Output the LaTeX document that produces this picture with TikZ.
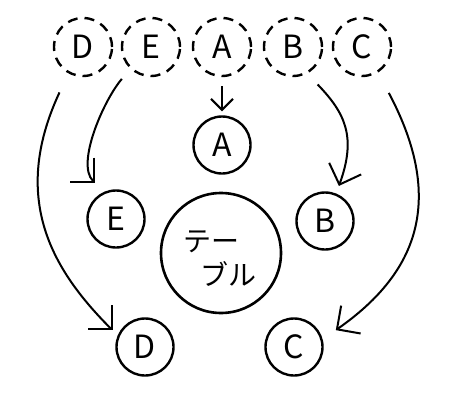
\documentclass[tikz,border=0pt]{standalone}
\usepackage{fontspec}
\setmainfont{Noto Sans CJK JP}
\usetikzlibrary{arrows.meta}
\begin{document}
\begin{tikzpicture}[x=1pt,y=1pt,
  lbl/.style={font=\fontsize{32}{38}\selectfont},
  dcirc/.style={circle, draw, dash pattern=on 10pt off 7pt, line width=2.4pt, minimum size=58pt, inner sep=0pt, lbl},
  pcirc/.style={circle, draw, line width=2.4pt, minimum size=57pt, inner sep=0pt, lbl},
  tcirc/.style={circle, draw, line width=2.6pt, minimum size=120pt, inner sep=0pt},
  ttxt/.style={font=\fontsize{28}{34}\selectfont, inner sep=0pt},
  arr/.style={line width=2pt, -{Straight Barb[length=17pt,width=34pt]}},
  arrA/.style={line width=2pt, -{Straight Barb[length=11pt,width=22pt]}},
  ]
\useasboundingbox (0,0) rectangle (454,400);
% top dashed circles
\node[dcirc] (tD) at (83,353) {D};
\node[dcirc] (tE) at (151,353) {E};
\node[dcirc] (tA) at (222,353) {A};
\node[dcirc] (tB) at (293,353) {B};
\node[dcirc] (tC) at (362,353) {C};
% seats
\node[pcirc] (A) at (222,255) {A};
\node[pcirc] (E) at (116,181) {E};
\node[pcirc] (B) at (325,179) {B};
\node[pcirc] (D) at (145,53) {D};
\node[pcirc] (C) at (294,53) {C};
% table
\node[tcirc] (table) at (221,147) {};
\node[ttxt] (t1) at (211,158) {テー};
\node[ttxt] (t2) at (228,126) {ブル};
% arrows
\draw[arrA, shorten <=9pt, shorten >=4pt] (tA) -- (A);
\draw[arr, shorten <=13pt, shorten >=13pt] (tE.227) .. controls +(229:40) and +(135:40) .. (E.114);
\draw[arr, shorten <=21pt, shorten >=7pt] (tD.241) .. controls +(245:140) and +(135:90) .. (D.157);
\draw[arr, shorten <=15pt, shorten >=8pt] (tB.298) .. controls +(314:55) and +(70:60) .. (B.68);
\draw[arr, shorten <=23pt, shorten >=16pt] (tC.302) .. controls +(298:150) and +(35:110) .. (C.15);
\end{tikzpicture}
\end{document}
